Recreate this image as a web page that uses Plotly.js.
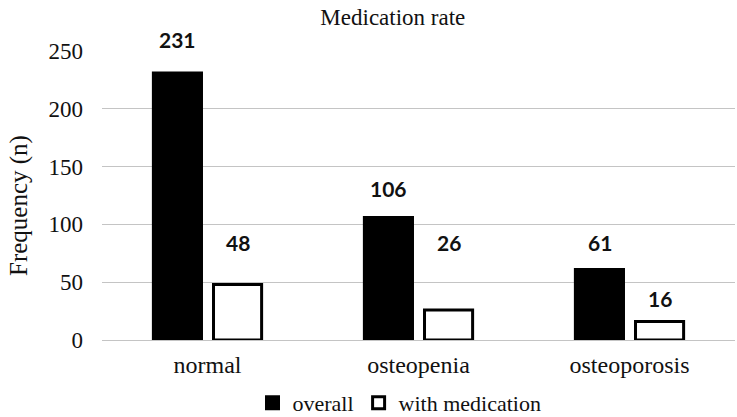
<!DOCTYPE html>
<html>
<head>
<meta charset="utf-8">
<script src="https://cdn.plot.ly/plotly-3.0.1.min.js"></script>
<style>html,body{margin:0;padding:0;background:#fff}#chart{width:737px;height:417px}</style>
</head>
<body>
<div id="chart"></div>
<script>
const categories = ["normal", "osteopenia", "osteoporosis"];
const overall = [231, 106, 61];
const withMedication = [48, 26, 16];
const seriesNames = ["overall", "with medication"];
const yMax = 250;
// label placement heights (data units) as in the original figure
const labelYOverall = [260, 131, 84];
const labelYMedication = [84, 84, 36];

const serif = "'Liberation Serif', 'Times New Roman', Times, serif";
const sans = "Lato, sans-serif";

const traces = [
  {type: "bar", name: seriesNames[0], x: categories, y: overall,
   marker: {color: "#000000", line: {color: "#000000", width: 3}}},
  {type: "bar", name: seriesNames[1], x: categories, y: withMedication,
   marker: {color: "#ffffff", line: {color: "#000000", width: 3}}}
];

const annotations = [];
categories.forEach((c, i) => {
  annotations.push({x: c, y: labelYOverall[i] / yMax, xref: "x", yref: "y domain", text: String(overall[i]),
    showarrow: false, xshift: -30, yanchor: "middle", font: {family: sans, size: 21, color: "#111", weight: "bold"}});
  annotations.push({x: c, y: labelYMedication[i] / yMax, xref: "x", yref: "y domain", text: String(withMedication[i]),
    showarrow: false, xshift: 30, yanchor: "middle", font: {family: sans, size: 21, color: "#111", weight: "bold"}});
});
// y-axis title
annotations.push({text: "Frequency (n)", xref: "paper", yref: "paper", x: -0.131, y: 0.464,
  xanchor: "center", yanchor: "middle", textangle: -90, showarrow: false,
  font: {family: serif, size: 25, color: "#111"}});

const layout = {
  width: 737, height: 417,
  margin: {l: 102, r: 2, t: 51, b: 77, autoexpand: false},
  paper_bgcolor: "#fff", plot_bgcolor: "#fff",
  font: {family: serif},
  title: {text: "Medication rate", font: {family: serif, size: 23, color: "#111"},
          x: 0.533, xanchor: "center", y: 0.959, yanchor: "middle", xref: "container", yref: "container"},
  barmode: "group", bargap: 0.43, bargroupgap: 0.2,
  xaxis: {type: "category", showgrid: false, showline: false, ticks: "", zeroline: false, automargin: false,
          tickfont: {family: serif, size: 24, color: "#111"}, ticklabelstandoff: 8},
  yaxis: {range: [0, yMax], dtick: 50, showgrid: true, gridcolor: "#c4c4c4", gridwidth: 1,
          zeroline: true, zerolinecolor: "#c4c4c4", zerolinewidth: 1, showline: false, ticks: "",
          tickfont: {family: serif, size: 23, color: "#111"}, ticklabelstandoff: 18,
          automargin: false},
  showlegend: true,
  legend: {orientation: "h", x: 0.47, xanchor: "center", y: -0.218, yanchor: "middle",
           font: {family: serif, size: 22, color: "#111"}, itemwidth: 30, tracegroupgap: 0},
  annotations: annotations
};

Plotly.newPlot("chart", traces, layout, {displayModeBar: false, staticPlot: true});
</script>
</body>
</html>
